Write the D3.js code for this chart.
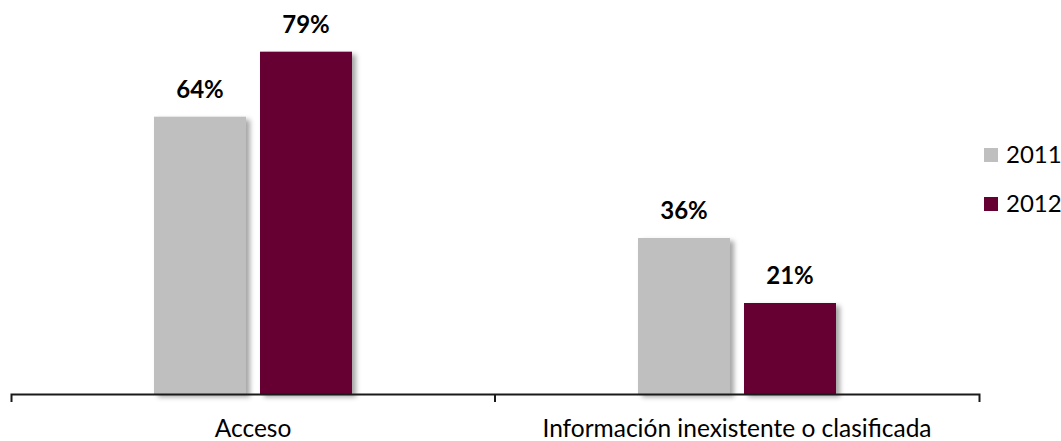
<!DOCTYPE html>
<html><head><meta charset="utf-8">
<script src="https://cdn.jsdelivr.net/npm/d3@7"></script>
<style>
html,body{margin:0;padding:0;background:#fff;}
svg{display:block;font-family:Lato, "Open Sans", sans-serif;}
</style></head>
<body>
<svg id="chart" width="1061" height="441"></svg>
<script>
const categories = ["Acceso", "Información inexistente o clasificada"];
const seriesNames = ["2011", "2012"];
const values2011 = [64, 36];
const values2012 = [79, 21];
const colors = ["#BFBFBF", "#660033"];

const svg = d3.select("#chart");
const defs = svg.append("defs");
const f = defs.append("filter").attr("id","shadow").attr("x","-10%").attr("y","-10%").attr("width","130%").attr("height","130%");
f.append("feDropShadow").attr("dx",4).attr("dy",3).attr("stdDeviation",2.5).attr("flood-color","#000").attr("flood-opacity",0.35);

const left = 11, right = 979, baseY = 394;
const x = d3.scaleBand().domain(categories).range([left, right]).padding(0);
const y = d3.scaleLinear().domain([0, 90]).range([baseY, 4]);
const x1 = d3.scaleBand().domain(seriesNames).range([-99, 99]).paddingInner(14/106).paddingOuter(0);

const data = categories.map((c, i) => ({cat: c, vals: [values2011[i], values2012[i]]}));

const g = svg.append("g");
const groups = g.selectAll("g.grp").data(data).join("g")
  .attr("transform", d => `translate(${x(d.cat) + x.bandwidth()/2},0)`);

groups.selectAll("rect").data(d => d.vals.map((v, j) => ({v, s: seriesNames[j], j}))).join("rect")
  .attr("x", d => x1(d.s)).attr("width", x1.bandwidth())
  .attr("y", d => y(d.v)).attr("height", d => baseY - y(d.v))
  .attr("fill", d => colors[d.j]).attr("filter","url(#shadow)");

groups.selectAll("text.lbl").data(d => d.vals.map((v, j) => ({v, s: seriesNames[j], j}))).join("text")
  .attr("class","lbl")
  .attr("x", d => x1(d.s) + x1.bandwidth()/2).attr("y", d => y(d.v) - 19)
  .attr("text-anchor","middle").attr("font-weight","bold").attr("font-size", 24)
  .attr("fill","#000").text(d => d.v + "%");

// axis
const ax = svg.append("g").attr("transform", `translate(0,${baseY})`)
  .call(d3.axisBottom(x).tickSizeInner(0).tickSizeOuter(8).tickPadding(25.5));
ax.select(".domain").attr("stroke","#1a1a1a").attr("stroke-width",2);
ax.selectAll(".tick text").attr("font-size",24.5).attr("fill","#000").attr("font-family","Lato, 'Open Sans', sans-serif");
// boundary tick between categories
ax.append("line").attr("x1", x(categories[1])).attr("x2", x(categories[1])).attr("y1",0).attr("y2",8)
  .attr("stroke","#1a1a1a").attr("stroke-width",2);

// legend
const leg = svg.append("g").attr("transform","translate(984,148)");
const li = leg.selectAll("g").data(seriesNames).join("g").attr("transform",(d,i)=>`translate(0,${i*49})`);
li.append("rect").attr("width",14).attr("height",14).attr("fill",(d,i)=>colors[i]);
li.append("text").attr("x",22).attr("y",15).attr("font-size",24).attr("fill","#000").text(d=>d);
</script>
</body></html>
